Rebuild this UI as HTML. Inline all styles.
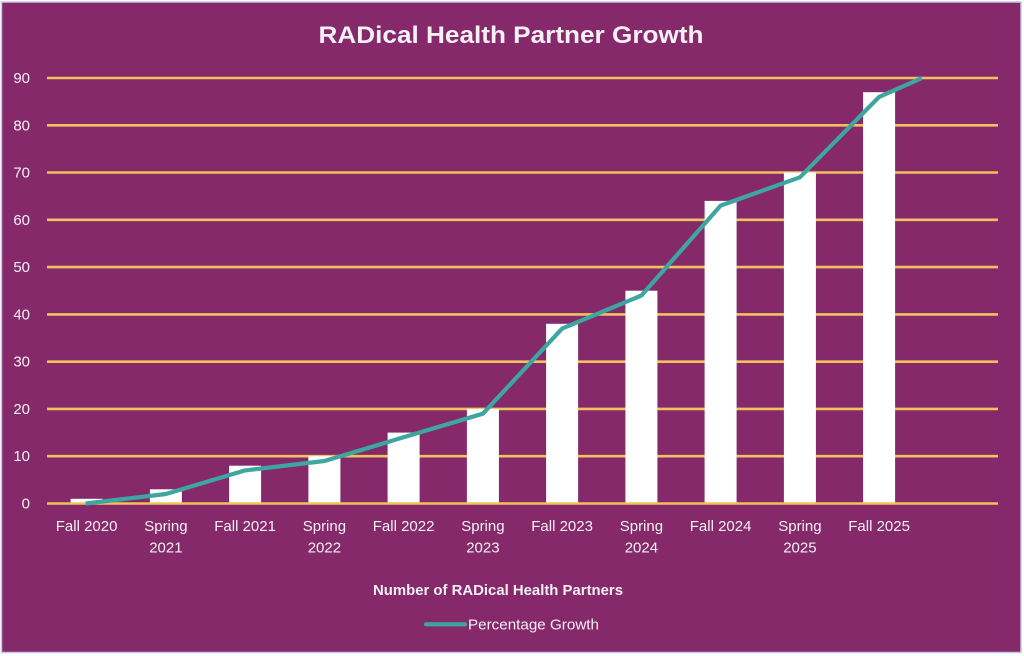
<!DOCTYPE html>
<html><head><meta charset="utf-8"><style>
html,body{margin:0;padding:0;background:#fff;}
svg{display:block;}
text{font-family:"Liberation Sans",sans-serif;fill:#f4f0f4;}
</style></head><body>
<svg width="1024" height="656" viewBox="0 0 1024 656" xmlns="http://www.w3.org/2000/svg">
<rect x="0" y="0" width="1024" height="656" fill="#ffffff"/>
<rect x="1.5" y="2" width="1019.5" height="650.5" fill="#85296B" stroke="#c9c4ea" stroke-width="1.5"/>
<text x="511" y="43" font-size="24" font-weight="bold" text-anchor="middle" textLength="385" lengthAdjust="spacingAndGlyphs" fill="#ffffff">RADical Health Partner Growth</text>
<g stroke="#EFC25E" stroke-width="2.6">
<line x1="47" x2="998" y1="78" y2="78"/>
<line x1="47" x2="998" y1="125.3" y2="125.3"/>
<line x1="47" x2="998" y1="172.5" y2="172.5"/>
<line x1="47" x2="998" y1="219.8" y2="219.8"/>
<line x1="47" x2="998" y1="267.1" y2="267.1"/>
<line x1="47" x2="998" y1="314.4" y2="314.4"/>
<line x1="47" x2="998" y1="361.7" y2="361.7"/>
<line x1="47" x2="998" y1="408.9" y2="408.9"/>
<line x1="47" x2="998" y1="456.2" y2="456.2"/>
</g>
<g font-size="15" text-anchor="end">
<text x="30" y="83">90</text>
<text x="30" y="130.3">80</text>
<text x="30" y="177.5">70</text>
<text x="30" y="224.8">60</text>
<text x="30" y="272.1">50</text>
<text x="30" y="319.4">40</text>
<text x="30" y="366.7">30</text>
<text x="30" y="413.9">20</text>
<text x="30" y="461.2">10</text>
<text x="30" y="508.5">0</text>
</g>
<g fill="#ffffff">
<rect x="70.6" y="498.8" width="32" height="4.7"/>
<rect x="149.9" y="489.3" width="32" height="14.2"/>
<rect x="229.1" y="465.7" width="32" height="37.8"/>
<rect x="308.4" y="456.2" width="32" height="47.3"/>
<rect x="387.6" y="432.6" width="32" height="70.9"/>
<rect x="466.9" y="408.9" width="32" height="94.6"/>
<rect x="546.1" y="323.8" width="32" height="179.7"/>
<rect x="625.4" y="290.7" width="32" height="212.8"/>
<rect x="704.6" y="200.9" width="32" height="302.6"/>
<rect x="783.9" y="172.5" width="32" height="331"/>
<rect x="863.1" y="92.2" width="32" height="411.3"/>
</g>
<line x1="47" x2="998" y1="503.5" y2="503.5" stroke="#EFC25E" stroke-width="2.6"/>
<polyline fill="none" stroke="#3EA6A0" stroke-width="4.2" stroke-linejoin="round" points="85.6,503.5 165.9,494 245.1,470.4 324.4,461 403.6,437.3 482.9,413.7 562.1,328.6 641.4,295.5 720.6,205.6 799.9,177.3 879.1,96.9 922,78"/>
<g font-size="15" text-anchor="middle">
<text x="86.6" y="531">Fall 2020</text>
<text x="165.9" y="531">Spring</text><text x="165.9" y="552.5">2021</text>
<text x="245.1" y="531">Fall 2021</text>
<text x="324.4" y="531">Spring</text><text x="324.4" y="552.5">2022</text>
<text x="403.6" y="531">Fall 2022</text>
<text x="482.9" y="531">Spring</text><text x="482.9" y="552.5">2023</text>
<text x="562.1" y="531">Fall 2023</text>
<text x="641.4" y="531">Spring</text><text x="641.4" y="552.5">2024</text>
<text x="720.6" y="531">Fall 2024</text>
<text x="799.9" y="531">Spring</text><text x="799.9" y="552.5">2025</text>
<text x="879.1" y="531">Fall 2025</text>
</g>
<text x="373" y="595" font-size="15" font-weight="bold" textLength="250" lengthAdjust="spacingAndGlyphs" fill="#ffffff">Number of RADical Health Partners</text>
<line x1="426" x2="465" y1="624.3" y2="624.3" stroke="#3EA6A0" stroke-width="4.2" stroke-linecap="round"/>
<text x="468" y="629.5" font-size="15" textLength="131" lengthAdjust="spacingAndGlyphs">Percentage Growth</text>
</svg>
</body></html>
